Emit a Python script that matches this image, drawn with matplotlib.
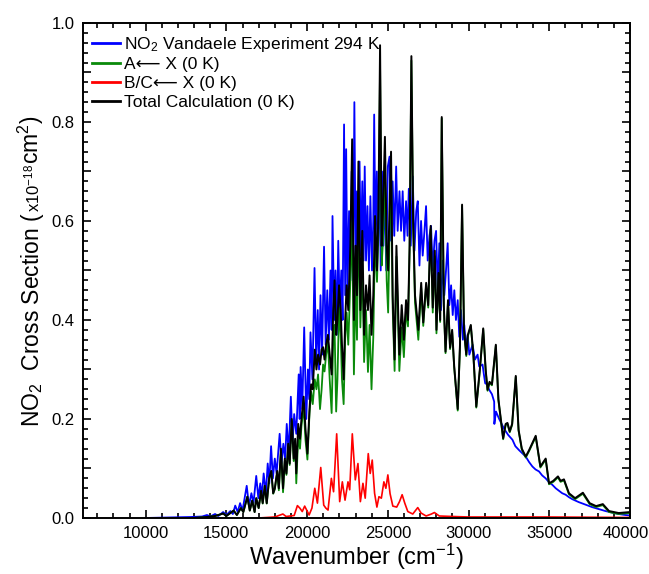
import matplotlib
matplotlib.use("Agg")
import matplotlib.pyplot as plt
from matplotlib.ticker import MultipleLocator, FuncFormatter
from matplotlib.transforms import ScaledTranslation

plt.rcParams['font.family'] = ['Liberation Sans', 'DejaVu Sans']
plt.rcParams['mathtext.fontset'] = 'custom'
plt.rcParams['mathtext.rm'] = 'Liberation Sans'
plt.rcParams['mathtext.it'] = 'Liberation Sans:italic'

# Measured NO2 cross section (Vandaele, 294 K): wavenumber (cm-1), sigma (1e-18 cm2)
exp_wn = [10000, 11500, 12800, 13500, 13800, 14000, 14300, 14500, 14800, 15000,
          15250, 15400, 15550, 15700, 15850, 16000, 16260, 16400, 16550, 16680,
          16850, 16980, 17100, 17200, 17310, 17450, 17560, 17660, 17770, 17880,
          18000, 18110, 18300, 18420, 18530, 18640, 18740, 18860, 18994, 19100,
          19200, 19330, 19480, 19540, 19600, 19700, 19820, 19950, 20050, 20130,
          20210, 20330, 20460, 20560, 20660, 20740, 20830, 20930, 21050, 21150,
          21250, 21350, 21450, 21520, 21574, 21680, 21760, 21840, 21930, 22020,
          22120, 22200, 22290, 22360, 22420, 22500, 22600, 22680, 22760, 22850,
          22928, 23010, 23090, 23160, 23250, 23330, 23420, 23500, 23570, 23650,
          23740, 23830, 23920, 24020, 24100, 24155, 24240, 24320, 24400, 24480,
          24560, 24640, 24720, 24800, 24900, 25000, 25105, 25200, 25300, 25400,
          25517, 25610, 25723, 25820, 25920, 26020, 26130, 26220, 26300, 26420,
          26546, 26650, 26760, 26855, 26960, 27060, 27160, 27270, 27369, 27470,
          27580, 27678, 27780, 27890, 27990, 28090, 28192, 28295, 28400, 28500,
          28604, 28707, 28810, 28920, 29020, 29119, 29220, 29330, 29427, 29530,
          29650, 29736, 29850, 29942, 30050, 30250, 30400, 30560, 30662, 30868,
          30950, 31032, 31150, 31280, 31450, 31588, 31600, 31700, 31897, 32050,
          32205, 32450, 32720, 32900, 33130, 33350, 33543, 33750, 33955, 34150,
          34366, 34560, 34778, 34990, 35190, 35400, 35601, 35800, 36013, 36220,
          36424, 36830, 37247, 37650, 38070, 38480, 38894, 39300, 39717, 40000]
exp_sigma = [0.000, 0.001, 0.002, 0.003, 0.006, 0.003, 0.008, 0.004, 0.012, 0.006,
             0.014, 0.008, 0.025, 0.012, 0.030, 0.015, 0.065, 0.025, 0.050, 0.030,
             0.085, 0.040, 0.070, 0.045, 0.090, 0.050, 0.110, 0.070, 0.145, 0.080,
             0.120, 0.090, 0.170, 0.110, 0.150, 0.120, 0.190, 0.130, 0.245, 0.150,
             0.210, 0.170, 0.290, 0.200, 0.305, 0.220, 0.385, 0.200, 0.300, 0.240,
             0.375, 0.280, 0.505, 0.320, 0.420, 0.300, 0.450, 0.330, 0.548, 0.350,
             0.460, 0.360, 0.500, 0.380, 0.610, 0.400, 0.500, 0.370, 0.560, 0.420,
             0.500, 0.400, 0.795, 0.450, 0.745, 0.460, 0.620, 0.480, 0.700, 0.500,
             0.840, 0.520, 0.660, 0.500, 0.720, 0.530, 0.680, 0.520, 0.710, 0.520,
             0.630, 0.500, 0.650, 0.500, 0.600, 0.815, 0.550, 0.700, 0.550, 0.720,
             0.500, 0.700, 0.550, 0.680, 0.500, 0.710, 0.730, 0.560, 0.680, 0.570,
             0.710, 0.580, 0.660, 0.580, 0.660, 0.560, 0.640, 0.570, 0.665, 0.550,
             0.690, 0.540, 0.620, 0.640, 0.510, 0.600, 0.530, 0.580, 0.630, 0.520,
             0.570, 0.590, 0.500, 0.560, 0.580, 0.460, 0.555, 0.420, 0.520, 0.450,
             0.500, 0.555, 0.430, 0.470, 0.410, 0.460, 0.400, 0.440, 0.366, 0.420,
             0.360, 0.390, 0.340, 0.370, 0.330, 0.350, 0.320, 0.330, 0.306, 0.310,
             0.290, 0.272, 0.270, 0.259, 0.250, 0.235, 0.190, 0.215, 0.200, 0.190,
             0.180, 0.168, 0.158, 0.145, 0.137, 0.130, 0.124, 0.113, 0.104, 0.098,
             0.094, 0.086, 0.080, 0.072, 0.067, 0.060, 0.055, 0.050, 0.047, 0.042,
             0.038, 0.032, 0.027, 0.022, 0.018, 0.014, 0.011, 0.008, 0.006, 0.005]

# Calculated spectra (0 K) on a common wavenumber grid
calc_wn = [13000, 13800, 14300, 14800, 15000, 15450, 15650, 15900, 16050, 16300,
           16450, 16600, 16750, 16850, 17000, 17150, 17250, 17380, 17500, 17650,
           17780, 17900, 18000, 18150, 18250, 18380, 18510, 18620, 18720, 18830,
           18920, 19050, 19170, 19260, 19330, 19450, 19560, 19650, 19786, 19900,
           20020, 20150, 20250, 20350, 20476, 20580, 20680, 20800, 20900, 20990,
           21080, 21180, 21290, 21400, 21520, 21620, 21700, 21800, 21880, 21980,
           22080, 22160, 22264, 22360, 22450, 22550, 22680, 22790, 22900, 23000,
           23090, 23180, 23300, 23420, 23530, 23650, 23770, 23870, 23990, 24100,
           24210, 24330, 24420, 24520, 24620, 24700, 24820, 24930, 25020, 25100,
           25200, 25300, 25420, 25534, 25714, 25860, 25994, 26130, 26250, 26350,
           26460, 26570, 26684, 26890, 27067, 27195, 27374, 27502, 27655, 27783,
           27910, 28013, 28140, 28243, 28340, 28470, 28575, 28728, 28856, 28984,
           29111, 29330, 29470, 29600, 29720, 29860, 29960, 30140, 30300, 30480,
           30700, 30909, 31060, 31177, 31300, 31450, 31691, 31850, 32000, 32144,
           32300, 32411, 32550, 32700, 32926, 33100, 33300, 33543, 33750, 34161,
           34450, 34778, 34984, 35250, 35539, 35700, 35910, 36219, 36600, 37083,
           37500, 37900, 38318, 38700, 39300, 40000]

# A <- X contribution
a_sigma = [0.000, 0.002, 0.004, 0.009, 0.004, 0.015, 0.006, 0.020, 0.012, 0.043,
           0.015, 0.035, 0.012, 0.040, 0.020, 0.054, 0.029, 0.064, 0.029, 0.079,
           0.094, 0.049, 0.058, 0.092, 0.056, 0.134, 0.052, 0.115, 0.087, 0.147,
           0.107, 0.196, 0.115, 0.150, 0.070, 0.165, 0.140, 0.185, 0.225, 0.158,
           0.118, 0.212, 0.255, 0.230, 0.280, 0.260, 0.290, 0.220, 0.260, 0.310,
           0.296, 0.330, 0.354, 0.280, 0.212, 0.365, 0.390, 0.215, 0.280, 0.425,
           0.370, 0.280, 0.230, 0.363, 0.415, 0.350, 0.480, 0.600, 0.290, 0.475,
           0.360, 0.620, 0.385, 0.520, 0.315, 0.420, 0.295, 0.390, 0.260, 0.365,
           0.570, 0.477, 0.580, 0.913, 0.510, 0.560, 0.705, 0.480, 0.415, 0.560,
           0.705, 0.425, 0.297, 0.528, 0.297, 0.385, 0.325, 0.420, 0.387, 0.540,
           0.924, 0.590, 0.435, 0.360, 0.465, 0.388, 0.471, 0.425, 0.583, 0.415,
           0.529, 0.373, 0.491, 0.396, 0.807, 0.427, 0.333, 0.437, 0.341, 0.377,
           0.304, 0.217, 0.347, 0.630, 0.377, 0.327, 0.367, 0.388, 0.328, 0.223,
           0.298, 0.381, 0.298, 0.257, 0.273, 0.268, 0.348, 0.238, 0.198, 0.159,
           0.188, 0.190, 0.173, 0.188, 0.285, 0.176, 0.138, 0.122, 0.135, 0.164,
           0.102, 0.118, 0.068, 0.073, 0.082, 0.073, 0.076, 0.048, 0.038, 0.049,
           0.028, 0.022, 0.026, 0.012, 0.008, 0.010]

# B/C <- X contribution
bc_wn = [17000, 18000, 18500, 18700, 19200, 19400, 19549, 19700, 19850, 20125,
         20300, 20475, 20640, 20846, 21030, 21160, 21298, 21504, 21640, 21833,
         22019, 22183, 22350, 22533, 22640, 22800, 22985, 23150, 23300, 23459,
         23600, 23788, 23910, 24035, 24180, 24324, 24450, 24600, 24756, 24880,
         25003, 25140, 25311, 25550, 25723, 25887, 26050, 26238, 26545, 26855,
         27060, 27370, 27700, 27884, 28190, 29000, 30000, 35000, 40000]
bc_sigma = [0.000, 0.002, 0.008, 0.003, 0.005, 0.025, 0.020, 0.013, 0.024, 0.006,
            0.020, 0.060, 0.030, 0.102, 0.026, 0.020, 0.016, 0.080, 0.053, 0.170,
            0.033, 0.073, 0.036, 0.073, 0.057, 0.170, 0.077, 0.110, 0.033, 0.070,
            0.040, 0.130, 0.090, 0.117, 0.050, 0.022, 0.043, 0.040, 0.073, 0.060,
            0.087, 0.049, 0.024, 0.022, 0.033, 0.047, 0.030, 0.013, 0.008, 0.021,
            0.010, 0.004, 0.008, 0.011, 0.004, 0.003, 0.002, 0.002, 0.001]

# Total calculated cross section
total_sigma = [0.000, 0.002, 0.004, 0.009, 0.004, 0.015, 0.006, 0.020, 0.012, 0.043,
               0.015, 0.035, 0.012, 0.040, 0.020, 0.055, 0.030, 0.065, 0.030, 0.080,
               0.095, 0.050, 0.060, 0.095, 0.060, 0.140, 0.060, 0.120, 0.090, 0.150,
               0.110, 0.200, 0.120, 0.160, 0.090, 0.190, 0.160, 0.200, 0.245, 0.180,
               0.130, 0.220, 0.270, 0.260, 0.340, 0.300, 0.330, 0.310, 0.340, 0.345,
               0.320, 0.350, 0.370, 0.330, 0.290, 0.420, 0.480, 0.370, 0.400, 0.470,
               0.420, 0.350, 0.280, 0.400, 0.470, 0.420, 0.550, 0.765, 0.400, 0.550,
               0.450, 0.720, 0.420, 0.580, 0.370, 0.470, 0.420, 0.490, 0.370, 0.450,
               0.610, 0.500, 0.620, 0.955, 0.550, 0.620, 0.770, 0.550, 0.500, 0.620,
               0.740, 0.450, 0.320, 0.550, 0.330, 0.430, 0.360, 0.440, 0.400, 0.550,
               0.933, 0.600, 0.450, 0.380, 0.475, 0.395, 0.475, 0.430, 0.590, 0.425,
               0.540, 0.380, 0.495, 0.400, 0.810, 0.430, 0.336, 0.440, 0.344, 0.380,
               0.307, 0.220, 0.350, 0.633, 0.380, 0.330, 0.370, 0.390, 0.330, 0.225,
               0.300, 0.383, 0.300, 0.259, 0.275, 0.270, 0.350, 0.240, 0.200, 0.161,
               0.190, 0.192, 0.175, 0.190, 0.287, 0.178, 0.140, 0.124, 0.137, 0.166,
               0.104, 0.120, 0.070, 0.075, 0.084, 0.075, 0.078, 0.050, 0.040, 0.051,
               0.030, 0.024, 0.028, 0.014, 0.010, 0.012]

labels = ["NO$_2$ Vandaele Experiment 294 K",
          "A\u27f5 X (0 K)",
          "B/C\u27f5 X (0 K)",
          "Total Calculation (0 K)"]

fig = plt.figure(figsize=(6.49, 5.74), dpi=100)
ax = fig.add_axes([0.1274, 0.0976, 0.8433, 0.8624])

ax.plot(exp_wn, exp_sigma, color='#0000ff', lw=1.3, label=labels[0])
ax.plot(calc_wn, a_sigma, color='#0a8a0a', lw=1.3, label=labels[1])
ax.plot(bc_wn, bc_sigma, color='#ff0000', lw=1.2, label=labels[2])
ax.plot(calc_wn, total_sigma, color='black', lw=1.4, label=labels[3])

ax.set_xlim(6100, 40000)
ax.set_ylim(0.0, 1.0)

ax.xaxis.set_major_locator(MultipleLocator(5000))
ax.xaxis.set_minor_locator(MultipleLocator(1000))
ax.yaxis.set_major_locator(MultipleLocator(0.1))
ax.yaxis.set_minor_locator(MultipleLocator(0.02))
ax.yaxis.set_major_formatter(FuncFormatter(
    lambda v, p: f"{v:.1f}" if round(v * 10) % 2 == 0 else ""))
ax.xaxis.set_major_formatter(FuncFormatter(
    lambda v, p: f"{int(v)}" if v >= 10000 else ""))

ax.tick_params(which='both', direction='in', top=True, right=True,
               labelsize=12, width=1.2, pad=6)
ax.tick_params(which='major', length=6)
ax.tick_params(which='minor', length=3.5)
for s in ax.spines.values():
    s.set_linewidth(1.4)

# keep the last x tick label inside the figure
for lab in ax.get_xticklabels():
    if lab.get_text() == "40000":
        lab.set_transform(lab.get_transform() + ScaledTranslation(-4 / 100, 0, fig.dpi_scale_trans))

ax.set_xlabel("Wavenumber (cm$^{-1}$)", fontsize=17, labelpad=0)

# y-axis label built from pieces of different sizes, stacked along the axis
renderer = fig.canvas.get_renderer()
pieces = [("NO$_2$  Cross Section ( ", 16.5), ("x10$^{-18}$", 12), ("cm$^2$)", 16.5)]
ybase = 0.256
for txt, size in pieces:
    t = fig.text(0.060, ybase, txt, rotation=90, fontsize=size,
                 ha='left', va='baseline', rotation_mode='anchor')
    bb = t.get_window_extent(renderer)
    ybase += bb.height / fig.bbox.height

leg = ax.legend(loc='upper left', frameon=False, fontsize=12.5,
                handlelength=1.6, handletextpad=0.25, labelspacing=0.2,
                borderaxespad=0.0, bbox_to_anchor=(0.005, 0.99))
for line in leg.get_lines():
    line.set_linewidth(2.0)

fig.savefig("out.png", dpi=100)
